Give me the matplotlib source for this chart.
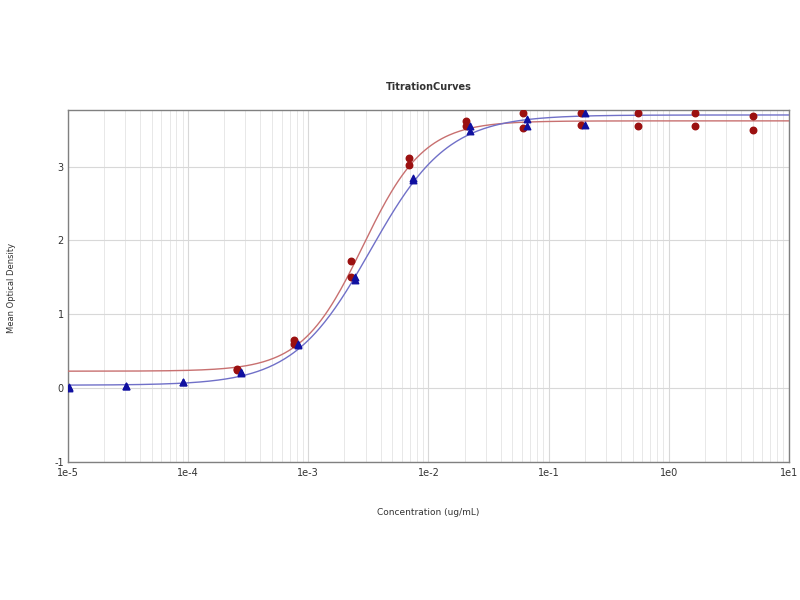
import numpy as np
import matplotlib
matplotlib.use("Agg")
import matplotlib.pyplot as plt
from matplotlib.ticker import FixedLocator, FuncFormatter, NullFormatter

# Red series (circles): concentrations and duplicate ODs
red_conc = [5.0, 1.667, 0.5556, 0.1852, 0.06173, 0.02058, 0.00686, 0.002286, 0.000762, 0.000254]
red_od1 = [3.68, 3.72, 3.72, 3.72, 3.73, 3.62, 3.12, 1.72, 0.65, 0.26]
red_od2 = [3.50, 3.55, 3.55, 3.57, 3.53, 3.55, 3.02, 1.50, 0.60, 0.24]

# Blue series (triangles)
blue_conc = [0.2, 0.06667, 0.02222, 0.007407, 0.002469, 0.000823, 0.000274, 9.14e-5, 3.05e-5, 1.016e-5]
blue_od1 = [3.72, 3.65, 3.55, 2.85, 1.50, 0.60, 0.22, 0.08, 0.03, 0.01]
blue_od2 = [3.57, 3.55, 3.48, 2.82, 1.47, 0.58, 0.20, 0.08, 0.03, 0.00]

# 4PL fit parameters: bottom, top, EC50, hill
red_fit = (0.23, 3.62, 2.85e-3, 1.7)
blue_fit = (0.04, 3.70, 3.3e-3, 1.35)

x_major = [1e-5, 1e-4, 1e-3, 1e-2, 1e-1, 1e0, 1e1]
x_labels = ["1e-5", "1e-4", "1e-3", "1e-2", "1e-1", "1e0", "1e1"]
y_ticks = [-1, 0, 1, 2, 3]

def fourpl(x, b, t, c, h):
    return b + (t - b) / (1 + (c / x) ** h)

fig = plt.figure(figsize=(8, 6), dpi=100)
ax = fig.add_axes([0.085, 0.23, 0.901, 0.587])

xx = np.logspace(-5, 1, 400)
ax.plot(xx, fourpl(xx, *red_fit), color="#c87070", lw=1.0, zorder=3)
ax.plot(xx, fourpl(xx, *blue_fit), color="#7070c8", lw=1.0, zorder=3)

ax.scatter(red_conc + red_conc, red_od1 + red_od2, marker="o", s=22, color="#9b1010", zorder=4)
ax.scatter(blue_conc + blue_conc, blue_od1 + blue_od2, marker="^", s=22, color="#1010a0", zorder=5)

ax.set_xscale("log")
ax.set_xlim(1e-5, 1e1)
ax.set_ylim(-1, 3.77)
minors = [m * d for d in x_major[:-1] for m in range(2, 10)]
ax.xaxis.set_major_locator(FixedLocator(x_major))
ax.xaxis.set_minor_locator(FixedLocator(minors))
ax.xaxis.set_minor_formatter(NullFormatter())
ax.set_xticks(x_major)
ax.set_xticklabels(x_labels)
ax.set_yticks(y_ticks)
ax.set_yticklabels([str(v) for v in y_ticks])

ax.grid(True, which="major", axis="both", color="#d8d8d8", lw=0.8)
ax.grid(True, which="minor", axis="x", color="#e4e4e4", lw=0.6)
ax.set_axisbelow(True)

for s in ax.spines.values():
    s.set_color("#808080")
    s.set_linewidth(1.0)
ax.tick_params(axis="both", which="both", length=0, labelsize=7, colors="#333333", pad=3)
ax.tick_params(axis="x", pad=4)

ax.set_title("TitrationCurves", fontsize=7, fontweight="bold", color="#333333", pad=14)
ax.set_xlabel("Concentration (ug/mL)", fontsize=6.5, color="#333333", labelpad=22)
fig.text(0.014, 0.52, "Mean Optical Density", rotation=90, fontsize=6, color="#333333",
         ha="center", va="center")

fig.savefig("out.png", dpi=100)
